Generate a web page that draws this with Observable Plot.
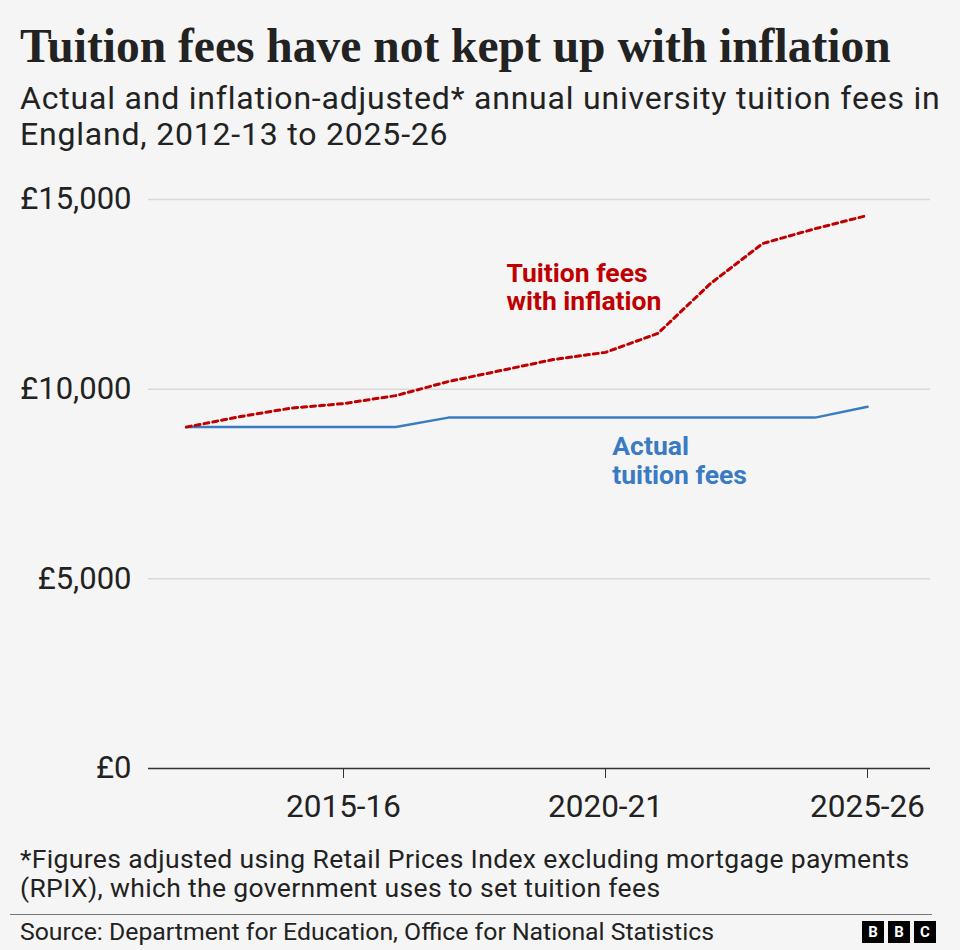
<!DOCTYPE html>
<html>
<head>
<meta charset="utf-8">
<script src="https://cdn.jsdelivr.net/npm/d3@7"></script>
<script src="https://cdn.jsdelivr.net/npm/@observablehq/plot@0.6"></script>
<style>
  html, body { margin: 0; padding: 0; background: #f5f5f5; }
  #page { position: relative; width: 960px; height: 950px; background: #f5f5f5; overflow: hidden; font-family: Roboto, "Noto Sans", sans-serif; color: #222; }
  #title { position: absolute; left: 20px; top: 20px; font: bold 47.5px/52px "Liberation Serif", serif; color: #222; white-space: nowrap; }
  #subtitle { position: absolute; left: 20px; top: 80px; font-size: 32px; line-height: 36px; letter-spacing: 0.8px; color: #222; white-space: nowrap; }
  #chart { position: absolute; left: 0; top: 170px; }
  #note { position: absolute; left: 20px; top: 844px; font-size: 26.5px; line-height: 29px; letter-spacing: 0.35px; color: #222; white-space: nowrap; }
  #rule { position: absolute; left: 10px; top: 914px; width: 922px; height: 0; border-top: 1.5px solid #777; }
  #source { position: absolute; left: 20px; top: 918px; font-size: 24.8px; line-height: 28px; color: #222; white-space: nowrap; }
  .bbc { position: absolute; top: 921px; width: 22px; height: 22px; background: #000; color: #fff; font: bold 15px Roboto, sans-serif; text-align: center; line-height: 22px; }
</style>
</head>
<body>
<div id="page">
  <div id="title">Tuition fees have not kept up with inflation</div>
  <div id="subtitle">Actual and inflation-adjusted* annual university tuition fees in<br>England, 2012-13 to 2025-26</div>
  <div id="chart"></div>
  <div id="note">*Figures adjusted using Retail Prices Index excluding mortgage payments<br>(RPIX), which the government uses to set tuition fees</div>
  <div id="rule"></div>
  <div id="source">Source: Department for Education, Office for National Statistics</div>
  <div class="bbc" style="left:862px">B</div>
  <div class="bbc" style="left:888px">B</div>
  <div class="bbc" style="left:914px">C</div>
</div>
<script>
// Academic year start (2012 = 2012-13)
const years = [2012, 2013, 2014, 2015, 2016, 2017, 2018, 2019, 2020, 2021, 2022, 2023, 2024, 2025];
const actualFees = [9000, 9000, 9000, 9000, 9000, 9250, 9250, 9250, 9250, 9250, 9250, 9250, 9250, 9535];
const inflationFees = [9000, 9270, 9500, 9620, 9830, 10200, 10490, 10780, 10970, 11470, 12780, 13840, 14230, 14580];
const yTicks = [0, 5000, 10000, 15000];
const xTicks = [2015, 2020, 2025];
const labels = [
  {year: 2018.11, value: 12700, text: "Tuition fees\nwith inflation", color: "#c00000"},
  {year: 2020.13, value: 8120, text: "Actual\ntuition fees", color: "#3a7bc2"}
];

const actual = years.map((y, i) => ({year: y, value: actualFees[i]}));
const inflation = years.map((y, i) => ({year: y, value: inflationFees[i]}));
const fmtYear = y => `${y}-${String((y + 1) % 100).padStart(2, "0")}`;

const chart = Plot.plot({
  width: 960,
  height: 670,
  marginTop: 29,
  marginBottom: 72,
  marginLeft: 148,
  marginRight: 30,
  style: {fontFamily: "Roboto, sans-serif", background: "transparent", color: "#222"},
  x: {domain: [2012, 2025], insetLeft: 37.8, insetRight: 63},
  y: {domain: [0, 15000]},
  marks: [
    Plot.ruleY(yTicks.filter(d => d > 0), {stroke: "#d9d9d9", strokeWidth: 1.5}),
    Plot.axisY(yTicks, {tickSize: 0, tickPadding: 17, fontSize: 31, fill: "#222", tickFormat: d => "£" + d3.format(",")(d), label: null}),
    Plot.axisX(xTicks, {tickSize: 10, tickPadding: 16, fontSize: 31.5, fill: "#222", stroke: "#333", tickFormat: fmtYear, label: null}),
    Plot.ruleY([0], {stroke: "#333", strokeWidth: 1.5}),
    Plot.line(actual, {x: "year", y: "value", stroke: "#3a7bc2", strokeWidth: 2.5}),
    Plot.line(inflation, {x: "year", y: "value", stroke: "#c00000", strokeWidth: 3, strokeDasharray: "5,4"}),
    Plot.text(labels, {x: "year", y: "value", text: "text", fill: "color", textAnchor: "start", fontSize: 26.5, fontWeight: "bold", lineHeight: 1.08})
  ]
});
document.getElementById("chart").appendChild(chart);
</script>
</body>
</html>
